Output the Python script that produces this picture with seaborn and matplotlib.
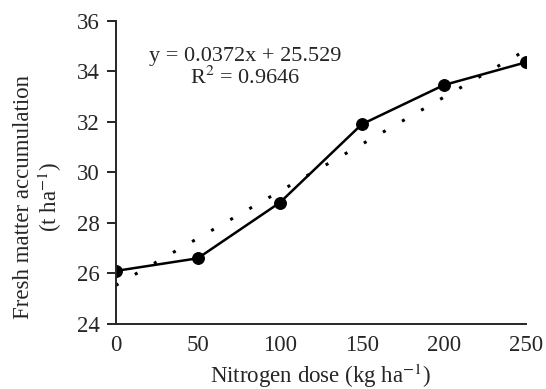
import numpy as np
import pandas as pd
import matplotlib
matplotlib.use("Agg")
import matplotlib.pyplot as plt
import seaborn as sns

# data
nitrogen_dose = [0, 50, 100, 150, 200, 250]
fresh_matter = [26.1, 26.6, 28.8, 31.9, 33.45, 34.35]
y_ticks = [24, 26, 28, 30, 32, 34, 36]
slope = 0.0372
intercept = 25.529
r_squared = 0.9646

df = pd.DataFrame({"dose": nitrogen_dose, "fm": fresh_matter})
trend_x = np.array([0, 250])
trend = pd.DataFrame({"dose": trend_x, "fm": slope * trend_x + intercept})

sns.set_style("ticks")
plt.rcParams["font.family"] = ["Liberation Serif", "DejaVu Serif"]
plt.rcParams["mathtext.fontset"] = "stix"

fig, ax = plt.subplots(figsize=(5.46, 3.89), dpi=100)
fig.subplots_adjust(left=0.212, right=0.963, top=0.947, bottom=0.167)

# linear trend (dotted) and measured values
sns.lineplot(data=trend, x="dose", y="fm", ax=ax, color="black",
             linestyle=(0, (1, 6.2)), linewidth=2.2, dash_capstyle="butt")
sns.lineplot(data=df, x="dose", y="fm", ax=ax, color="black", linewidth=1.8,
             marker="o", markersize=8.5, markeredgecolor="black")

ax.set_xlim(0, 250)
ax.set_ylim(24, 36)
ax.set_xticks(nitrogen_dose)
ax.set_yticks(y_ticks)
ax.tick_params(axis="x", length=0, labelsize=16.5, pad=8)
ax.tick_params(axis="y", length=6.5, width=1.4, direction="out", labelsize=16.5, pad=5)
for s in ["left", "bottom"]:
    ax.spines[s].set_linewidth(1.4)
sns.despine(ax=ax)

ax.set_xlabel("Nitrogen dose (kg ha$^{-1}$)", fontsize=16.5, labelpad=4)
ax.set_ylabel("Fresh matter accumulation\n(t ha$^{-1}$)", fontsize=16.5,
              linespacing=1.1)
ax.yaxis.set_label_coords(-0.125, 0.42)

ax.text(78.8, 0.867, f"y = {slope}x + {intercept}", transform=ax.get_xaxis_transform(),
        ha="center", va="baseline", fontsize=16)
ax.text(78.8, 0.791, f"R$^2$ = {r_squared}", transform=ax.get_xaxis_transform(),
        ha="center", va="baseline", fontsize=16)

fig.savefig("out.png", dpi=100)
